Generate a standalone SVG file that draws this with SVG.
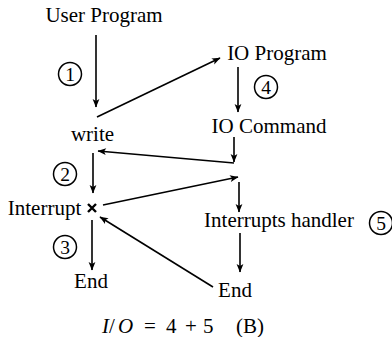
<svg xmlns="http://www.w3.org/2000/svg" width="392" height="337" viewBox="0 0 392 337">
  <defs>
    <marker id="arr" viewBox="-9 -4.5 10 9" markerWidth="10" markerHeight="9" refX="0" refY="0" orient="auto" markerUnits="userSpaceOnUse">
      <path d="M0.5,0 L-8,-3.4 L-6,0 L-8,3.4 Z" fill="#000"/>
    </marker>
    <style>
      .lbl { font-family: "Liberation Serif", "Times New Roman", serif; font-size: 21px; fill: #000; text-anchor: middle; }
      .num { font-family: "Liberation Serif", "Times New Roman", serif; font-size: 19.5px; fill: #000; text-anchor: middle; }
      .ring { fill: none; stroke: #000; stroke-width: 1.5; }
      .edge { fill: none; stroke: #000; stroke-width: 1.6; }
      .arrow { marker-end: url(#arr); }
      .math { font-family: "Liberation Serif", "Times New Roman", serif; font-size: 21px; fill: #000; }
    </style>
  </defs>

  <rect width="392" height="337" fill="#fff"/>

  <!-- connectors -->
  <g id="connectors">
    <line class="edge arrow" x1="96" y1="35" x2="96" y2="107"/>
    <line class="edge arrow" x1="97" y1="117" x2="220" y2="58"/>
    <line class="edge arrow" x1="238" y1="67" x2="238" y2="112"/>
    <line class="edge arrow" x1="234" y1="137" x2="234" y2="162"/>
    <line class="edge arrow" x1="234" y1="163" x2="98" y2="151"/>
    <line class="edge arrow" x1="93" y1="153" x2="93" y2="193"/>
    <line class="edge arrow" x1="103" y1="205" x2="238" y2="177"/>
    <line class="edge arrow" x1="239" y1="182" x2="239" y2="212"/>
    <line class="edge arrow" x1="240" y1="233" x2="240" y2="272"/>
    <line class="edge arrow" x1="213" y1="287" x2="100" y2="217"/>
    <line class="edge arrow" x1="92" y1="220" x2="92" y2="270"/>
  </g>

  <!-- nodes -->
  <g id="user-program"><text class="lbl" x="104" y="22">User Program</text></g>
  <g id="write"><text class="lbl" x="92.5" y="141">write</text></g>
  <g id="io-program"><text class="lbl" x="277" y="60">IO Program</text></g>
  <g id="io-command"><text class="lbl" x="269" y="133">IO Command</text></g>
  <g id="interrupt">
    <text class="lbl" x="44.5" y="215">Interrupt</text>
    <path d="M88,204 L96,212 M96,204 L88,212" stroke="#000" stroke-width="2.4" fill="none"/>
  </g>
  <g id="interrupts-handler"><text class="lbl" x="279" y="227">Interrupts handler</text></g>
  <g id="end-left"><text class="lbl" x="91" y="288">End</text></g>
  <g id="end-right"><text class="lbl" x="235" y="297">End</text></g>

  <!-- step numbers -->
  <g id="step-1"><circle class="ring" cx="70" cy="74" r="11.5"/><text class="num" x="70" y="81">1</text></g>
  <g id="step-2"><circle class="ring" cx="65" cy="174" r="11.5"/><text class="num" x="65" y="181">2</text></g>
  <g id="step-3"><circle class="ring" cx="65" cy="247" r="11.5"/><text class="num" x="65" y="254">3</text></g>
  <g id="step-4"><circle class="ring" cx="266" cy="87" r="11.5"/><text class="num" x="266" y="94">4</text></g>
  <g id="step-5"><circle class="ring" cx="381" cy="223" r="11.5"/><text class="num" x="381" y="230">5</text></g>

  <!-- caption -->
  <g id="caption">
    <text class="math" y="333"><tspan x="102" font-style="italic">I</tspan><tspan x="109">/</tspan><tspan x="118" font-style="italic">O</tspan><tspan x="144">=</tspan><tspan x="166">4</tspan><tspan x="185">+</tspan><tspan x="203">5</tspan><tspan x="236">(B)</tspan></text>
  </g>
</svg>
